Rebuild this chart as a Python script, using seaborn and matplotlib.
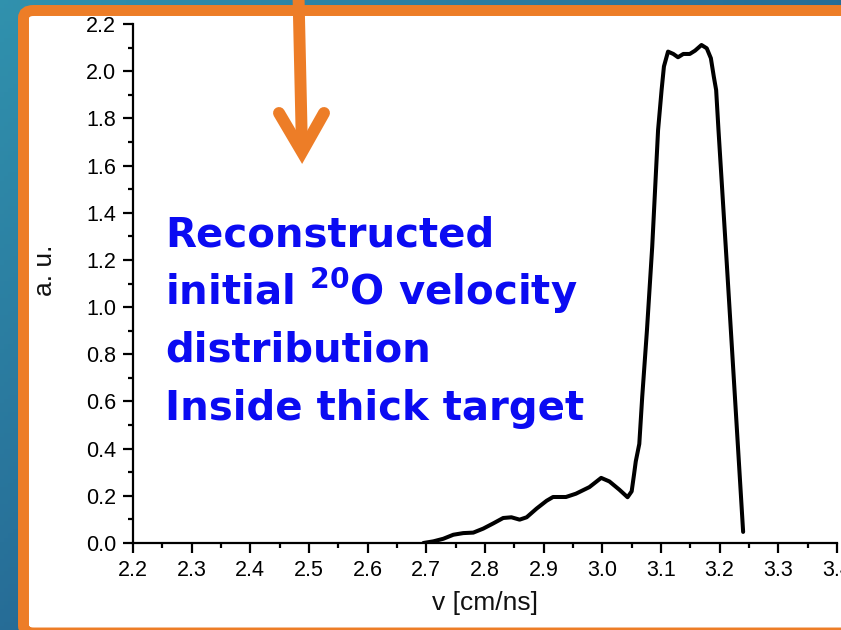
import numpy as np
import pandas as pd
import matplotlib
matplotlib.use("Agg")
import matplotlib.pyplot as plt
import seaborn as sns
from matplotlib.patches import FancyBboxPatch
from matplotlib.lines import Line2D

# ---------------- data ----------------
velocity = [2.695, 2.712, 2.729, 2.746, 2.763, 2.780, 2.797, 2.814, 2.831,
            2.845, 2.859, 2.871, 2.888, 2.905, 2.916, 2.938, 2.955, 2.978,
            2.998, 3.012, 3.029, 3.043, 3.050, 3.054, 3.057, 3.063, 3.068,
            3.076, 3.085, 3.095, 3.101, 3.105, 3.112, 3.121, 3.129, 3.138,
            3.149, 3.158, 3.169, 3.178, 3.185, 3.190, 3.194, 3.198, 3.212,
            3.226, 3.240]
intensity = [0.000, 0.007, 0.018, 0.035, 0.042, 0.044, 0.061, 0.083, 0.106,
             0.109, 0.099, 0.109, 0.146, 0.179, 0.195, 0.195, 0.209, 0.237,
             0.276, 0.261, 0.226, 0.194, 0.219, 0.290, 0.346, 0.420, 0.620,
             0.900, 1.255, 1.750, 1.920, 2.020, 2.083, 2.073, 2.059, 2.073,
             2.073, 2.087, 2.111, 2.097, 2.055, 1.977, 1.920, 1.750, 1.190,
             0.620, 0.047]
x_ticks = [2.2, 2.3, 2.4, 2.5, 2.6, 2.7, 2.8, 2.9, 3.0, 3.1, 3.2, 3.3, 3.4]
y_ticks = [0.0, 0.2, 0.4, 0.6, 0.8, 1.0, 1.2, 1.4, 1.6, 1.8, 2.0, 2.2]
x_label = "v [cm/ns]"
y_label = "a. u."
annotation_lines = ["Reconstructed",
                    "initial $^{20}$O velocity",
                    "distribution",
                    "Inside thick target"]

df = pd.DataFrame({"v": velocity, "au": intensity})

# ---------------- style ----------------
sns.set_theme(style="ticks")
plt.rcParams["font.family"] = ["Liberation Sans", "DejaVu Sans"]
plt.rcParams["mathtext.fontset"] = "custom"
plt.rcParams["mathtext.rm"] = "DejaVu Sans:bold"
plt.rcParams["mathtext.default"] = "rm"

W, H = 841, 630
fig = plt.figure(figsize=(W / 100, H / 100), dpi=100)


def px(x):
    return x / W


def py(y):
    return 1 - y / H


# background gradient (slide)
bg = fig.add_axes([0, 0, 1, 1], zorder=-10)
gx = np.linspace(0, 1, 200)
gy = np.linspace(0, 1, 150)
GX, GY = np.meshgrid(gx, gy)
c1 = np.array([0.19, 0.57, 0.68])
c2 = np.array([0.12, 0.31, 0.52])
t = np.clip(0.55 * GX + 0.55 * GY, 0, 1)
img = c1 * (1 - t)[..., None] + c2 * t[..., None]
bg.imshow(img, aspect="auto", extent=[0, 1, 0, 1])
bg.set_axis_off()

orange = "#ED7D27"
frame = FancyBboxPatch((px(23.5), py(633)), px(900) - px(23.5), py(10.5) - py(633),
                       boxstyle="round,pad=0,rounding_size=0.012",
                       transform=fig.transFigure, facecolor="white",
                       edgecolor=orange, linewidth=7.9, zorder=-5)
fig.patches.append(frame)

# ---------------- main axes ----------------
ax = fig.add_axes([px(133), py(543), px(837) - px(133), py(24) - py(543)])
ax.set_facecolor("none")
sns.lineplot(data=df, x="v", y="au", ax=ax, color="black", linewidth=2.9,
             sort=False, estimator=None)
ax.lines[0].set_solid_joinstyle("round")
ax.lines[0].set_solid_capstyle("round")
ax.set_xlim(2.2, 3.4)
ax.set_ylim(0, 2.2)
ax.set_xticks(x_ticks)
ax.set_xticklabels([f"{v:.1f}" for v in x_ticks])
ax.set_yticks(y_ticks)
ax.set_yticklabels([f"{v:.1f}" for v in y_ticks])
ax.set_xticks([v + 0.05 for v in x_ticks[:-1]], minor=True)
ax.set_yticks([v + 0.1 for v in y_ticks[:-1]], minor=True)
for s in ["top", "right"]:
    ax.spines[s].set_visible(False)
for s in ["left", "bottom"]:
    ax.spines[s].set_linewidth(1.6)
    ax.spines[s].set_color("black")
ax.tick_params(which="major", direction="out", length=7.2, width=1.6,
               labelsize=15.5, colors="black", pad=5)
ax.tick_params(which="minor", direction="out", length=3.6, width=1.6, colors="black")

ax.set_xlabel(x_label, fontsize=19, color="#111111", va="baseline")
ax.xaxis.set_label_coords(0.5, (543 - 610) / 519)
ax.set_ylabel(y_label, fontsize=19, color="#111111", va="baseline")
ax.yaxis.set_label_coords((52 - 133) / 704, (543 - 270) / 519)

# ---------------- annotation arrow ----------------
fig.add_artist(Line2D([px(298.5), px(302)], [py(-5), py(150)], color=orange,
                      linewidth=8.6, solid_capstyle="butt", zorder=5))
fig.add_artist(Line2D([px(279), px(302), px(324)], [py(113), py(152), py(113)],
                      color=orange, linewidth=8.6, solid_capstyle="round",
                      solid_joinstyle="miter", zorder=5))

# ---------------- annotation text ----------------
baselines = [247, 305, 362, 420]
for line, yb in zip(annotation_lines, baselines):
    fig.text(px(165), py(yb), line, fontsize=29, fontweight="bold",
             color="#0B0BF2", family="DejaVu Sans", va="baseline", ha="left")

fig.savefig("out.png", dpi=100)
